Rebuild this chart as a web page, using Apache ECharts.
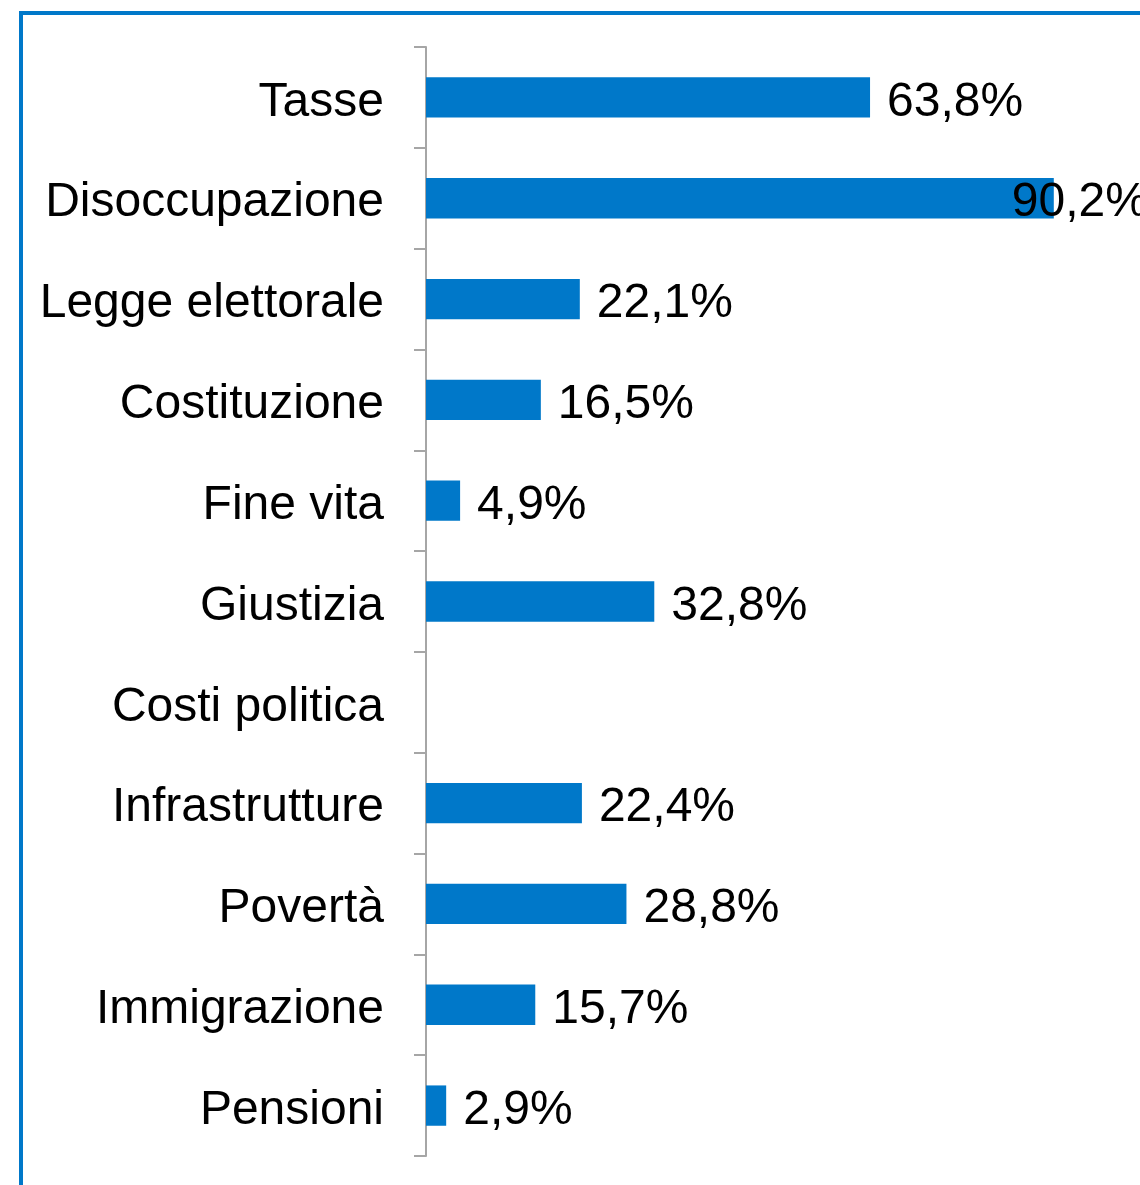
<!DOCTYPE html>
<html>
<head>
<meta charset="utf-8">
<script src="https://cdn.jsdelivr.net/npm/echarts@6/dist/echarts.min.js"></script>
<style>
html,body{margin:0;padding:0;background:#fff;}
#c{width:1140px;height:1185px;}
</style>
</head>
<body>
<div id="c"></div>
<script>
const categories = ["Tasse","Disoccupazione","Legge elettorale","Costituzione","Fine vita","Giustizia","Costi politica","Infrastrutture","Povertà","Immigrazione","Pensioni"];
const values = [63.8, 90.2, 22.1, 16.5, 4.9, 32.8, null, 22.4, 28.8, 15.7, 2.9];

const chart = echarts.init(document.getElementById('c'), null, {renderer:'canvas'});
const fontFamily = '"Liberation Sans", Arial, sans-serif';
const seriesData = values.map((v, i) => {
  if (v === null) return '-';
  const item = { value: v };
  if (i === 1) item.label = { offset: [-59, 5] };
  return item;
});
chart.setOption({
  animation: false,
  backgroundColor: '#fff',
  graphic: [{
    type: 'rect',
    shape: { x: 21, y: 13, width: 1300, height: 1400 },
    style: { fill: 'none', stroke: '#0078C9', lineWidth: 4 },
    z: 100, silent: true
  }],
  grid: { left: 426, top: 47, bottom: 29, right: 18, containLabel: false },
  xAxis: {
    type: 'value', min: 0, max: 100, show: false
  },
  yAxis: {
    type: 'category',
    data: categories,
    inverse: true,
    axisLine: { show: true, lineStyle: { color: '#A6A6A6', width: 2 } },
    axisTick: { show: true, length: 12, lineStyle: { color: '#A6A6A6', width: 2 } },
    axisLabel: {
      margin: 42, color: '#000', fontSize: 48, fontFamily: fontFamily,
      formatter: v => '{t|' + v + '}',
      rich: { t: { color: '#000', fontSize: 48, fontFamily: fontFamily, padding: [10, 0, 0, 0] } }
    }
  },
  series: [{
    type: 'bar',
    data: seriesData,
    barCategoryGap: '60%',
    itemStyle: { color: '#0078C9' },
    label: {
      show: true, position: 'right', distance: 17, offset: [0, 5],
      color: '#000', fontSize: 48, fontFamily: fontFamily,
      formatter: p => p.value.toFixed(1).replace('.', ',') + '%'
    }
  }]
});
</script>
</body>
</html>
